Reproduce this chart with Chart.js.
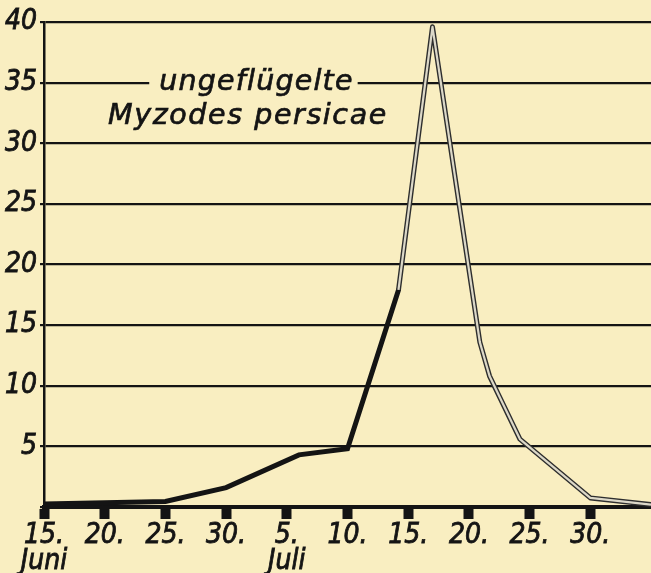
<!DOCTYPE html>
<html>
<head>
<meta charset="utf-8">
<script src="https://cdn.jsdelivr.net/npm/chart.js@4.4.1/dist/chart.umd.min.js"></script>
<style>
  html, body { margin: 0; padding: 0; background: #f9eec1; }
  #wrap { width: 651px; height: 573px; }
</style>
</head>
<body>
<div id="wrap"><canvas id="chart"></canvas></div>
<script>
// days counted from 15 June (30 June = 15, 5 July = 20 ...)
const days   = [0, 10, 15, 21, 25, 29.2, 32, 35.9, 36.7, 39.2, 45, 50];
const counts = [0.25, 0.45, 1.6, 4.3, 4.8, 17.9, 39.6, 13.6, 10.8, 5.6, 0.75, 0.2];

const xTickValues = [0, 5, 10, 15, 20, 25, 30, 35, 40, 45];
const xTickLabels = [['15.', 'Juni'], ['20.'], ['25.'], ['30.'], ['5.', 'Juli'], ['10.'], ['15.'], ['20.'], ['25.'], ['30.']];
const titleLines = ['ungeflügelte', 'Myzodes persicae'];

// after this day the curve is drawn as a hollow (grey) line
const greyFrom = 29.2;

const bg = '#f9eec1';
const ink = '#141414';
const tickFont = { family: '"Liberation Sans Narrow", "DejaVu Sans Condensed", sans-serif', size: 28, style: 'italic' };

const points = days.map((d, i) => ({ x: d, y: counts[i] }));
const greyPoints = points.filter(p => p.x >= greyFrom);

// Title text sitting on the 35 gridline
const titlePlugin = {
    id: 'titleText',
    afterDatasetsDraw(chart) {
        const { ctx, scales: { x, y } } = chart;
        const y1 = y.getPixelForValue(35);
        ctx.save();
        ctx.font = 'oblique 28.5px "DejaVu Sans"';
        ctx.letterSpacing = '1.2px';
        ctx.textAlign = 'center';
        ctx.textBaseline = 'alphabetic';
        const cx1 = x.getPixelForValue(17.5);
        const w1 = ctx.measureText(titleLines[0]).width;
        ctx.fillStyle = bg;
        ctx.fillRect(cx1 - w1 / 2 - 10, y1 - 4, w1 + 14, 8);
        ctx.fillStyle = ink;
        ctx.strokeStyle = ink;
        ctx.lineWidth = 0.7;
        ctx.fillText(titleLines[0], cx1, y1 + 7);
        ctx.strokeText(titleLines[0], cx1, y1 + 7);
        ctx.letterSpacing = '1.6px';
        const cx2 = x.getPixelForValue(16.8);
        ctx.fillText(titleLines[1], cx2, y1 + 41);
        ctx.strokeText(titleLines[1], cx2, y1 + 41);
        ctx.restore();
    }
};

new Chart(document.getElementById('chart'), {
    type: 'line',
    data: {
        datasets: [
            {
                // light core of the hollow line
                data: greyPoints,
                borderColor: '#dcd8c8',
                borderWidth: 2.2,
                borderJoinStyle: 'round',
                order: 0
            },
            {
                data: greyPoints,
                borderColor: '#2e2e2e',
                borderWidth: 5,
                borderJoinStyle: 'round',
                order: 1
            },
            {
                data: points.filter(p => p.x <= greyFrom),
                borderColor: ink,
                borderWidth: 5,
                borderCapStyle: 'round',
                order: 2
            }
        ]
    },
    options: {
        responsive: true,
        maintainAspectRatio: false,
        animation: false,
        events: [],
        layout: { padding: { top: 22, right: 0, left: 0, bottom: 0 } },
        elements: {
            point: { radius: 0 },
            line: { tension: 0, fill: false, borderJoinStyle: 'miter' }
        },
        plugins: {
            legend: { display: false },
            tooltip: { enabled: false }
        },
        scales: {
            x: {
                type: 'linear',
                min: 0,
                max: 50,
                afterBuildTicks: s => { s.ticks = xTickValues.map(v => ({ value: v })); },
                afterFit: s => { s.height = 66; },
                grid: { drawOnChartArea: false, tickLength: 12, tickWidth: 10, tickColor: ink },
                border: { color: ink, width: 4 },
                ticks: {
                    autoSkip: false,
                    maxRotation: 0,
                    padding: 3,
                    color: ink,
                    textStrokeColor: ink,
                    textStrokeWidth: 0.8,
                    font: { ...tickFont, lineHeight: 0.95 },
                    callback: (v, i) => xTickLabels[i]
                }
            },
            y: {
                min: 0,
                max: 40,
                afterFit: s => { s.width = 44; },
                grid: { color: ink, lineWidth: 2.2, tickLength: 4 },
                border: { color: ink, width: 2.5 },
                ticks: {
                    stepSize: 5,
                    padding: 3,
                    color: ink,
                    textStrokeColor: ink,
                    textStrokeWidth: 0.8,
                    font: tickFont,
                    callback: v => (v === 0 ? '' : v)
                }
            }
        }
    },
    plugins: [titlePlugin]
});
</script>
</body>
</html>
